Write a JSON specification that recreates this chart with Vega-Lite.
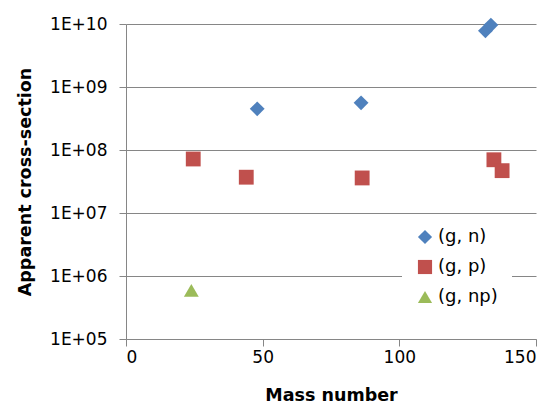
{
  "$schema": "https://vega.github.io/schema/vega-lite/v6.json",
  "autosize": {"type": "none"},
  "padding": {"left": 126, "top": 24, "right": 17, "bottom": 65},
  "width": 410,
  "height": 315,
  "background": "white",
  "config": {
    "font": "DejaVu Sans",
    "view": {"stroke": null}
  },
  "data": {
    "values": [
      {"mass": 48, "sigma": 4.5e8, "reaction": "(g, n)"},
      {"mass": 86, "sigma": 5.6e8, "reaction": "(g, n)"},
      {"mass": 131.5, "sigma": 7.8e9, "reaction": "(g, n)"},
      {"mass": 133.5, "sigma": 9.6e9, "reaction": "(g, n)"},
      {"mass": 24.6, "sigma": 7.2e7, "reaction": "(g, p)"},
      {"mass": 44, "sigma": 3.7e7, "reaction": "(g, p)"},
      {"mass": 86.4, "sigma": 3.6e7, "reaction": "(g, p)"},
      {"mass": 134.6, "sigma": 7.0e7, "reaction": "(g, p)"},
      {"mass": 137.6, "sigma": 4.7e7, "reaction": "(g, p)"},
      {"mass": 23.9, "sigma": 5.9e5, "reaction": "(g, np)"}
    ]
  },
  "mark": {"type": "point", "filled": true, "opacity": 1, "size": 220},
  "encoding": {
    "x": {
      "field": "mass",
      "type": "quantitative",
      "scale": {"domain": [0, 150], "nice": false},
      "axis": {
        "title": "Mass number",
        "values": [0, 50, 100, 150],
        "grid": false,
        "domainColor": "#868686",
        "tickColor": "#868686",
        "tickSize": 7,
        "labelFontSize": 17,
        "labelColor": "#000000",
        "labelPadding": 3,
        "titleFontSize": 17.5,
        "titleFontWeight": "bold",
        "titleColor": "#000000",
        "titlePadding": 21
      }
    },
    "y": {
      "field": "sigma",
      "type": "quantitative",
      "scale": {"type": "log", "domain": [1e5, 1e10], "nice": false},
      "axis": {
        "title": "Apparent cross-section",
        "values": [1e5, 1e6, 1e7, 1e8, 1e9, 1e10],
        "labelExpr": "'1E+' + format(round(log(datum.value) / LN10), '02d')",
        "grid": true,
        "gridColor": "#868686",
        "gridWidth": 1,
        "domainColor": "#868686",
        "tickColor": "#868686",
        "tickSize": 7,
        "labelFontSize": 17,
        "labelColor": "#000000",
        "labelPadding": 12,
        "titleFontSize": 17.5,
        "titleFontWeight": "bold",
        "titleColor": "#000000",
        "titlePadding": 15
      }
    },
    "color": {
      "field": "reaction",
      "type": "nominal",
      "scale": {
        "domain": ["(g, n)", "(g, p)", "(g, np)"],
        "range": ["#4F81BD", "#C0504D", "#9BBB59"]
      },
      "legend": {
        "title": null,
        "orient": "none",
        "legendX": 276,
        "legendY": 190,
        "fillColor": "white",
        "padding": 14,
        "labelFontSize": 18,
        "labelColor": "#000000",
        "labelOffset": 4,
        "symbolSize": 200,
        "rowPadding": 12,
        "symbolOpacity": 1
      }
    },
    "shape": {
      "field": "reaction",
      "type": "nominal",
      "scale": {
        "domain": ["(g, n)", "(g, p)", "(g, np)"],
        "range": ["diamond", "square", "triangle-up"]
      },
      "legend": null
    }
  }
}
